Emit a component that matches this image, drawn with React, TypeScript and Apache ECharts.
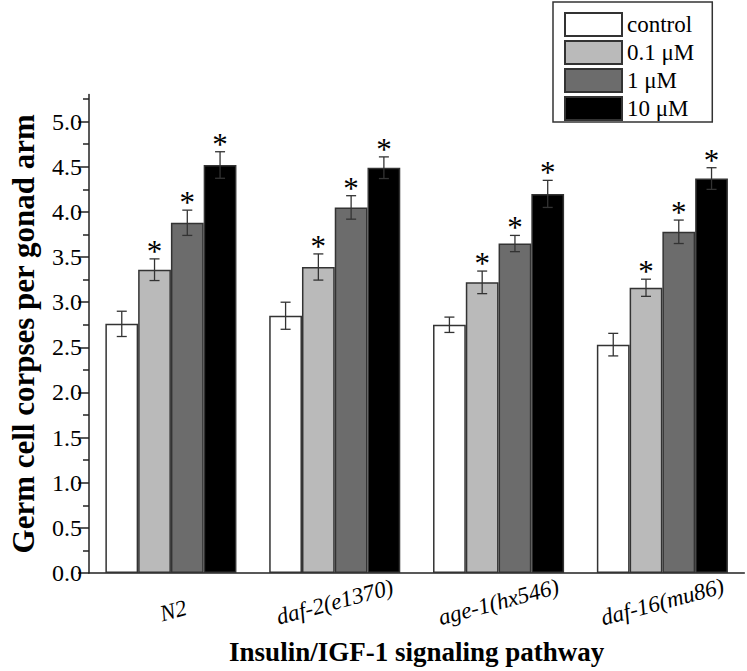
import React, { useEffect, useRef } from "react";
import * as echarts from "echarts";

const categories = ["N2", "daf-2(e1370)", "age-1(hx546)", "daf-16(mu86)"];
const groupNames = ["control", "0.1 μM", "1 μM", "10 μM"];
const controlVals = [2.76, 2.85, 2.75, 2.53];
const low01Vals = [3.36, 3.39, 3.22, 3.16];
const mid1Vals = [3.88, 4.05, 3.65, 3.78];
const high10Vals = [4.52, 4.49, 4.2, 4.37];
const controlErr = [0.14, 0.15, 0.085, 0.125];
const low01Err = [0.12, 0.145, 0.125, 0.095];
const mid1Err = [0.14, 0.13, 0.09, 0.13];
const high10Err = [0.147, 0.12, 0.15, 0.12];
const significant = [false, true, true, true];
const yTicks = [0, 0.5, 1, 1.5, 2, 2.5, 3, 3.5, 4, 4.5, 5];
const yMinorTicks = [0.25, 0.75, 1.25, 1.75, 2.25, 2.75, 3.25, 3.75, 4.25, 4.75, 5.25];

const values = [controlVals, low01Vals, mid1Vals, high10Vals];
const errors = [controlErr, low01Err, mid1Err, high10Err];
const fills = ["#ffffff", "#bababa", "#6c6c6c", "#000000"];
const FONT = "'Liberation Serif', 'Times New Roman', serif";
const richKeys = ["a", "b", "c", "d"];

export default function App() {
  const ref = useRef<HTMLDivElement>(null);
  useEffect(() => {
    if (!ref.current) return;
    const chart = echarts.init(ref.current, null, { renderer: "svg" });
    const barSeries = groupNames.map((name, gi) => ({
      type: "bar",
      name,
      data: values[gi],
      barWidth: "20%",
      barGap: "0%",
      itemStyle: { color: fills[gi], borderColor: "#333333", borderWidth: 1.5 },
      z: 2,
    }));
    const errSeries = groupNames.map((name, gi) => ({
      type: "custom",
      name: name + " err",
      z: 5,
      data: values[gi].map((v, ci) => [ci, v, errors[gi][ci], significant[gi] ? 1 : 0]),
      renderItem: (params: any, api: any) => {
        const ci = api.value(0);
        const v = api.value(1);
        const e = api.value(2);
        const sig = api.value(3);
        const c = api.coord([ci, v]);
        const bw = api.size([1, 0])[0] * 0.2;
        const x = c[0] + (gi - 1.5) * bw;
        const top = api.coord([ci, v + e])[1];
        const bot = api.coord([ci, v - e])[1];
        const ls = { stroke: "#333333", lineWidth: 1.3 };
        const children: any[] = [
          { type: "line", shape: { x1: x, y1: top, x2: x, y2: bot }, style: ls },
          { type: "line", shape: { x1: x - 5, y1: top, x2: x + 5, y2: top }, style: ls },
          { type: "line", shape: { x1: x - 5, y1: bot, x2: x + 5, y2: bot }, style: ls },
        ];
        if (sig) {
          children.push({
            type: "text",
            style: {
              text: "*",
              x,
              y: top - 23,
              align: "center",
              verticalAlign: "top",
              fontSize: 31,
              fontFamily: FONT,
              fill: "#000",
            },
          });
        }
        return { type: "group", children };
      },
    }));
    const rich: any = {};
    richKeys.forEach((k, i) => {
      rich[k] = {
        fontSize: 23,
        fontStyle: "italic",
        fontFamily: FONT,
        color: "#000",
        padding: i === 0 ? [18, 0, 0, 0] : [0, 0, 0, 0],
      };
    });
    const tickLine = { color: "#222", width: 1.5 };
    chart.setOption({
      animation: false,
      grid: { left: 82.7, right: 2.7, top: 94.6, bottom: 98 },
      legend: {
        data: groupNames,
        orient: "vertical",
        left: 553,
        top: 2,
        padding: [10, 18, 1, 11],
        itemWidth: 57,
        itemHeight: 23,
        itemGap: 3,
        borderColor: "#333333",
        borderWidth: 1.5,
        selectedMode: false,
        icon: "rect",
        textStyle: { fontSize: 23, fontFamily: FONT, color: "#000" },
      },
      xAxis: [
        {
          type: "category",
          data: categories,
          name: "Insulin/IGF-1 signaling pathway",
          nameLocation: "middle",
          nameGap: 65,
          nameTextStyle: { fontSize: 27, fontWeight: "bold", fontFamily: FONT, color: "#000" },
          axisLine: { lineStyle: tickLine },
          axisTick: { alignWithLabel: true, length: 10, lineStyle: tickLine },
          axisLabel: {
            rotate: 15,
            align: "center",
            verticalAlign: "middle",
            margin: 29,
            interval: 0,
            formatter: (val: string, idx: number) => `{${richKeys[idx]}|${val}}`,
            rich,
          },
        },
        {
          type: "category",
          data: categories,
          position: "bottom",
          axisLine: { show: false },
          axisLabel: { show: false },
          axisTick: { length: 5, lineStyle: tickLine },
        },
      ],
      yAxis: [
        {
          type: "value",
          min: 0,
          max: 5.3,
          interval: 0.5,
          position: "left",
          name: "Germ cell corpses per gonad arm",
          nameLocation: "middle",
          nameGap: 50,
          nameTextStyle: { fontSize: 31, fontWeight: "bold", fontFamily: FONT, color: "#000" },
          axisLine: { show: true, lineStyle: tickLine },
          axisTick: { show: true, length: 11, lineStyle: tickLine, customValues: yTicks },
          splitLine: { show: false },
          axisLabel: {
            fontSize: 24,
            fontFamily: FONT,
            color: "#000",
            margin: 7,
            customValues: yTicks,
            formatter: (v: number) => v.toFixed(1),
          },
        },
        {
          type: "value",
          min: 0,
          max: 5.3,
          interval: 0.5,
          position: "left",
          offset: 0,
          axisLine: { show: false },
          axisLabel: { show: false },
          splitLine: { show: false },
          axisTick: { show: true, length: 6, lineStyle: tickLine, customValues: yMinorTicks },
        },
      ],
      series: [...barSeries, ...errSeries],
    });
    return () => chart.dispose();
  }, []);
  return <div ref={ref} style={{ width: 747, height: 671, position: "absolute", left: 0, top: 0 }} />;
}
